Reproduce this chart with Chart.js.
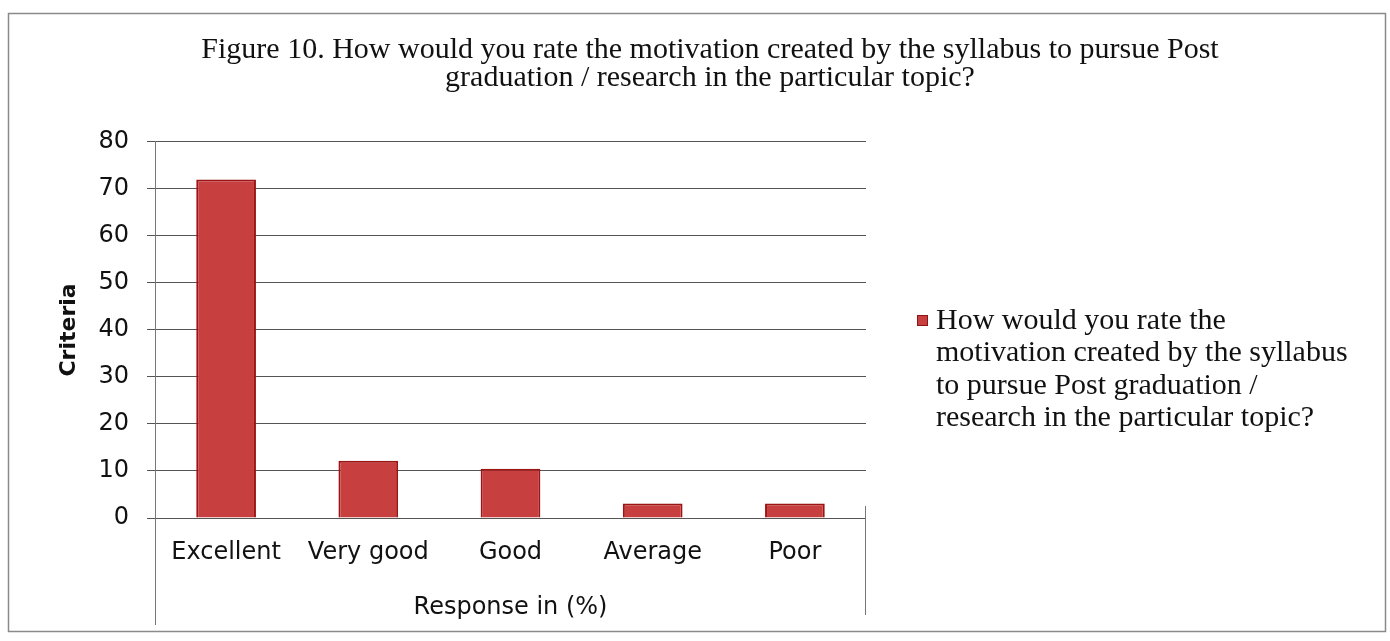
<!DOCTYPE html>
<html>
<head>
<meta charset="utf-8">
<script src="https://cdn.jsdelivr.net/npm/chart.js@4.4.0/dist/chart.umd.min.js"></script>
<style>
    body { margin: 0; background: #fff; }
    #wrap { width: 1390px; height: 641px; }
</style>
</head>
<body>
<div id="wrap"><canvas id="bar"></canvas></div>
<script>
// data
var categories = ["Excellent", "Very good", "Good", "Average", "Poor"];
var responses = [72, 12.2, 10.5, 3.1, 3.1];
var yTicks = [0, 10, 20, 30, 40, 50, 60, 70, 80];
var seriesName = "How would you rate the motivation created by the syllabus to pursue Post graduation / research in the particular topic?";
var legendLines = ["How would you rate the", "motivation created by the syllabus", "to pursue Post graduation /", "research in the particular topic?"];
var titleLines = ["Figure 10. How would you rate the motivation created by the syllabus to pursue Post", "graduation / research in the particular topic?"];

var serif = "'Liberation Serif', 'DejaVu Serif', serif";
var sans = "'DejaVu Sans', 'Liberation Sans', sans-serif";

// outer frame, plot box lines and the wrapped legend on the right
var extras = {
    id: "extras",
    afterDraw: function(chart) {
        var c = chart.ctx;
        var a = chart.chartArea;
        c.save();
        c.strokeStyle = "#8a8a8a";
        c.lineWidth = 1.5;
        c.strokeRect(8.5, 13.5, 1377, 618);

        c.strokeStyle = "#777";
        c.lineWidth = 1;
        c.beginPath();
        c.moveTo(a.left + 0.5, a.bottom);
        c.lineTo(a.left + 0.5, 625);
        c.moveTo(a.right - 0.5, a.bottom - 12);
        c.lineTo(a.right - 0.5, 615);
        c.stroke();

        // legend
        c.fillStyle = chart.data.datasets[0].backgroundColor;
        c.fillRect(917, 315, 11, 11);
        c.strokeStyle = "#8b1414";
        c.strokeRect(917.5, 315.5, 10, 10);
        c.fillStyle = "#111";
        c.font = "30px " + serif;
        c.textBaseline = "middle";
        for (var i = 0; i < legendLines.length; i++) {
            c.fillText(legendLines[i], 936, 321 + i * 32.5);
        }
        c.restore();
    }
};

var ctx = document.getElementById("bar");
var chart = new Chart(ctx, {
    type: "bar",
    data: {
        labels: categories,
        datasets: [{
            label: seriesName,
            data: responses,
            backgroundColor: "#c83f3f",
            borderColor: "#9c1414",
            borderWidth: 2,
            barPercentage: 0.42,
            categoryPercentage: 1
        }]
    },
    options: {
        responsive: true,
        maintainAspectRatio: false,
        animation: false,
        layout: {
            padding: { left: 30, right: 0, top: 14, bottom: 0 }
        },
        plugins: {
            legend: { display: false },
            tooltip: { enabled: false },
            title: {
                display: true,
                text: titleLines,
                color: "#111",
                font: { family: serif, size: 30, weight: "normal", lineHeight: 0.933 },
                padding: { top: 22, bottom: 50 }
            }
        },
        scales: {
            x: {
                grid: { display: false },
                border: { display: false },
                ticks: {
                    color: "#111",
                    font: { family: sans, size: 24 },
                    padding: 12,
                    maxRotation: 0
                },
                title: {
                    display: true,
                    text: "Response in (%)",
                    color: "#111",
                    font: { family: sans, size: 24 },
                    padding: { top: 19, bottom: 19 }
                },
                afterFit: function(scale) { scale.height = 123; }
            },
            y: {
                min: 0,
                max: 80,
                afterBuildTicks: function(scale) {
                    scale.ticks = yTicks.map(function(v) { return { value: v }; });
                },
                grid: { color: "#555", lineWidth: 1, tickLength: 8 },
                border: { color: "#777" },
                ticks: {
                    color: "#111",
                    font: { family: sans, size: 24 },
                    padding: 18
                },
                title: {
                    display: true,
                    text: "Criteria",
                    color: "#111",
                    font: { family: sans, size: 22, weight: "bold" },
                    padding: { top: 26, bottom: 4 }
                },
                afterFit: function(scale) { scale.width = 125; }
            },
            // empty right axis, only keeps room for the legend text
            side: {
                position: "right",
                display: true,
                grid: { display: false },
                border: { display: false },
                ticks: { display: false },
                afterFit: function(scale) { scale.width = 524; }
            }
        }
    },
    plugins: [extras]
});
</script>
</body>
</html>
